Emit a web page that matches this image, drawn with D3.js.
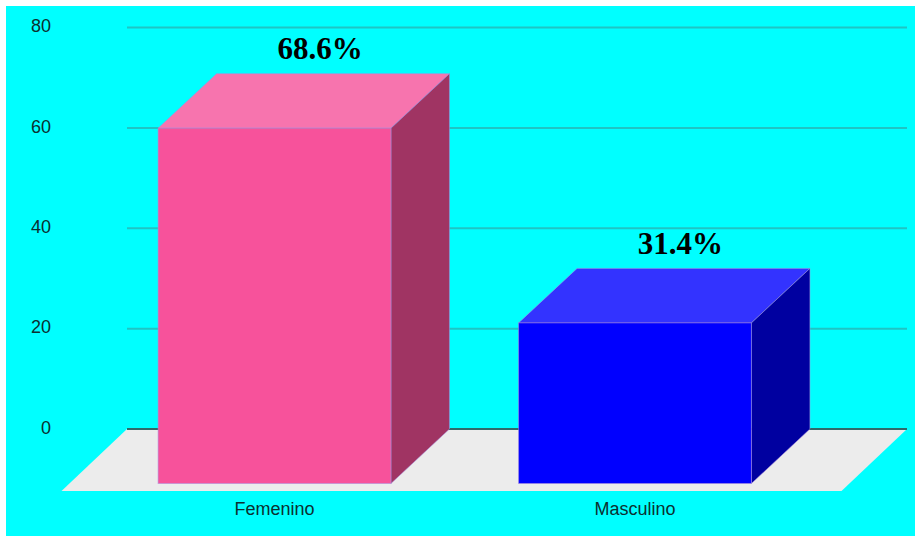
<!DOCTYPE html>
<html>
<head>
<meta charset="utf-8">
<script src="https://cdn.jsdelivr.net/npm/d3@7"></script>
<style>
  body { margin: 0; background: #ffffff; }
</style>
</head>
<body>
<div id="chart"></div>
<script>
// data
var categories = ["Femenino", "Masculino"];
var barValues = [70.8, 32];
var percentLabels = ["68.6%", "31.4%"];
var yTicks = [0, 20, 40, 60, 80];

var frontColors = ["#f7529b", "#0000ff"];
var topColors = ["#f774ae", "#3333ff"];
var sideColors = ["#a03463", "#0000a0"];

// svg params
var svgWidth = 915;
var svgHeight = 536;

// back wall of the plot
var plot = { left: 127, right: 907, top: 27.5, bottom: 429 };
// 3d offset of the bar front face
var depth = { dx: -58.5, dy: 54.5 };
// floor front edge offset
var floorDepth = { dx: -65.5, dy: 62 };

var svg = d3.select("#chart").append("svg")
  .attr("width", svgWidth)
  .attr("height", svgHeight);

// background
svg.append("rect")
  .attr("x", 6)
  .attr("y", 6)
  .attr("width", svgWidth - 6)
  .attr("height", svgHeight - 6)
  .attr("fill", "#00ffff");

var yScale = d3.scaleLinear()
  .domain([0, 80])
  .range([plot.bottom, plot.top]);

var xScale = d3.scaleBand()
  .domain(categories)
  .range([plot.left, plot.right])
  .paddingInner(0.354)
  .paddingOuter(0.259)
  .align(0.48);

// gridlines
svg.append("g")
  .selectAll("line")
  .data(yTicks.filter(t => t > 0))
  .enter()
  .append("line")
  .attr("x1", plot.left)
  .attr("x2", plot.right)
  .attr("y1", d => yScale(d))
  .attr("y2", d => yScale(d))
  .attr("stroke", "#1fc4c4")
  .attr("stroke-width", 2);

// floor
svg.append("polygon")
  .attr("points", [
    [plot.left, yScale(0)],
    [plot.right, yScale(0)],
    [plot.right + floorDepth.dx, yScale(0) + floorDepth.dy],
    [plot.left + floorDepth.dx, yScale(0) + floorDepth.dy]
  ].join(" "))
  .attr("fill", "#ececec");

// zero line
svg.append("line")
  .attr("x1", plot.left)
  .attr("x2", plot.right)
  .attr("y1", yScale(0))
  .attr("y2", yScale(0))
  .attr("stroke", "#2f6a6a")
  .attr("stroke-width", 2);

// y axis labels
var leftAxis = d3.axisLeft(yScale)
  .tickValues(yTicks)
  .tickSize(0)
  .tickPadding(76);

var yAxisG = svg.append("g")
  .attr("transform", `translate(${plot.left}, 0)`)
  .call(leftAxis);
yAxisG.select(".domain").remove();
yAxisG.selectAll("text")
  .attr("dy", "0.32em")
  .attr("y", -1.5)
  .attr("font-family", "'Liberation Sans', Arial, sans-serif")
  .attr("font-size", "18px")
  .attr("fill", "#0c3030");

// bars
var barData = categories.map((c, i) => ({
  name: c,
  value: barValues[i],
  label: percentLabels[i],
  i: i
}));

var bars = svg.append("g")
  .selectAll("g")
  .data(barData)
  .enter()
  .append("g");

var edge = "rgba(170,140,220,0.55)";

function pts(arr) {
  return arr.map(p => p.join(",")).join(" ");
}

// top face
bars.append("polygon")
  .attr("points", d => {
    var x0 = xScale(d.name), x1 = x0 + xScale.bandwidth(), yt = yScale(d.value);
    return pts([[x0, yt], [x1, yt], [x1 + depth.dx, yt + depth.dy], [x0 + depth.dx, yt + depth.dy]]);
  })
  .attr("fill", d => topColors[d.i])
  .attr("stroke", edge)
  .attr("stroke-width", 1);

// side face
bars.append("polygon")
  .attr("points", d => {
    var x1 = xScale(d.name) + xScale.bandwidth(), yt = yScale(d.value), yb = yScale(0);
    return pts([[x1, yt], [x1, yb], [x1 + depth.dx, yb + depth.dy], [x1 + depth.dx, yt + depth.dy]]);
  })
  .attr("fill", d => sideColors[d.i])
  .attr("stroke", edge)
  .attr("stroke-width", 1);

// front face
bars.append("rect")
  .attr("x", d => xScale(d.name) + depth.dx)
  .attr("y", d => yScale(d.value) + depth.dy)
  .attr("width", xScale.bandwidth())
  .attr("height", d => yScale(0) - yScale(d.value))
  .attr("fill", d => frontColors[d.i])
  .attr("stroke", edge)
  .attr("stroke-width", 1);

// percent labels
bars.append("text")
  .attr("x", d => xScale(d.name) + xScale.bandwidth() / 2 - 13)
  .attr("y", d => yScale(d.value) - 14.5)
  .attr("text-anchor", "middle")
  .attr("font-family", "Georgia, 'Liberation Serif', serif")
  .attr("font-weight", "bold")
  .attr("font-size", "31px")
  .attr("fill", "#000000")
  .text(d => d.label);

// x axis labels
var bottomAxis = d3.axisBottom(xScale)
  .tickSize(0)
  .tickPadding(11);

var xAxisG = svg.append("g")
  .attr("transform", `translate(${depth.dx}, ${yScale(0) + floorDepth.dy})`)
  .call(bottomAxis);
xAxisG.select(".domain").remove();
xAxisG.selectAll("text")
  .attr("font-family", "'Liberation Sans', Arial, sans-serif")
  .attr("font-size", "18px")
  .attr("fill", "#0c3030");
</script>
</body>
</html>
